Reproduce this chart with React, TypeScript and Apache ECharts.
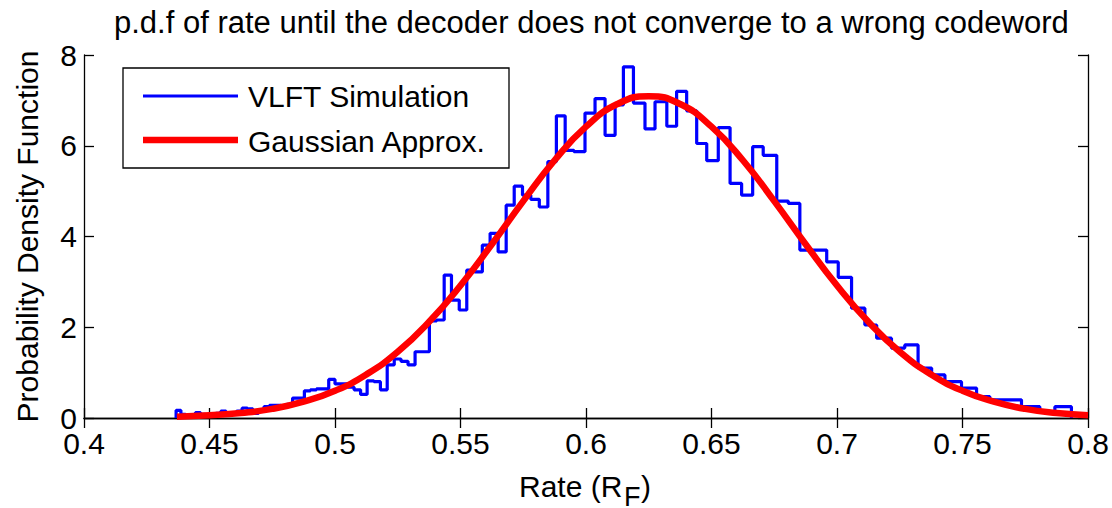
import React, { useEffect, useRef } from "react";
import * as echarts from "echarts";

const FONT = "Liberation Sans, Arial, Helvetica, sans-serif";

const titleText = "p.d.f of rate until the decoder does not converge to a wrong codeword";
const xTicks = [0.4, 0.45, 0.5, 0.55, 0.6, 0.65, 0.7, 0.75, 0.8];
const yTicks = [0, 2, 4, 6, 8];
const xNameParts = ["Rate (R", "F", ")"];
const yName = "Probability Density Function";

// left edges of the histogram steps (rate) and step heights (pdf)
const simEdges = [
  0.4367, 0.4386, 0.4405, 0.4425, 0.4444, 0.4464, 0.4484, 0.4505, 0.4525, 0.4545,
  0.4566, 0.4587, 0.4608, 0.463, 0.4651, 0.4673, 0.4695, 0.4717, 0.4739, 0.4762,
  0.4785, 0.4808, 0.4831, 0.4854, 0.4878, 0.4902, 0.4926, 0.495, 0.4975, 0.5,
  0.5025, 0.5051, 0.5076, 0.5102, 0.5128, 0.5155, 0.5181, 0.5208, 0.5236, 0.5263,
  0.5291, 0.5319, 0.5348, 0.5376, 0.5405, 0.5435, 0.5464, 0.5495, 0.5525, 0.5556,
  0.5587, 0.5618, 0.565, 0.5682, 0.5714, 0.5747, 0.578, 0.5814, 0.5848, 0.5882,
  0.5917, 0.5952, 0.5996, 0.6036, 0.6076, 0.6116, 0.6149, 0.6189, 0.6235, 0.6275,
  0.6322, 0.6361, 0.6401, 0.6441, 0.6481, 0.6527, 0.6574, 0.662, 0.6664, 0.6706,
  0.676, 0.6806, 0.6852, 0.6905, 0.6959, 0.7005, 0.7058, 0.7111, 0.7158, 0.7217,
  0.727, 0.7323, 0.7377, 0.743, 0.7496, 0.7556, 0.7609, 0.7675, 0.7735, 0.7808,
  0.7868, 0.7934,
];
const simValues = [
  0.17, 0.08, 0.05, 0.05, 0.12, 0.08, 0.05, 0.08, 0.1, 0.15,
  0.12, 0.1, 0.15, 0.22, 0.2, 0.1, 0.15, 0.25, 0.28, 0.28,
  0.25, 0.3, 0.44, 0.44, 0.6, 0.62, 0.64, 0.64, 0.85, 0.75,
  0.75, 0.68, 0.62, 0.52, 0.82, 0.8, 0.62, 1.17, 1.3, 1.25,
  1.17, 1.46, 1.46, 2.14, 2.16, 3.15, 2.6, 2.38, 3.26, 3.22,
  3.81, 4.07, 3.66, 4.69, 5.11, 4.91, 4.82, 4.65, 5.65, 6.66,
  5.9, 5.87, 6.72, 7.04, 6.23, 6.9, 7.74, 6.94, 6.37, 6.97,
  6.43, 7.2, 6.77, 6.05, 5.67, 6.4, 5.17, 4.91, 5.98, 5.79,
  4.78, 4.73, 3.7, 3.7, 3.44, 3.1, 2.42, 2.05, 1.76, 1.54,
  1.61, 1.1, 0.95, 0.8, 0.66, 0.47, 0.4, 0.4, 0.25, 0.14,
  0.25, 0,
];

const gaussX = [
  0.437, 0.45, 0.4625, 0.475, 0.4875, 0.5, 0.5125, 0.525, 0.5375, 0.55,
  0.5625, 0.575, 0.5875, 0.6, 0.6125, 0.625, 0.6375, 0.65, 0.6625, 0.675,
  0.6875, 0.7, 0.7125, 0.725, 0.7375, 0.75, 0.7625, 0.775, 0.7875, 0.8,
];
const gaussY = [
  0.03, 0.06, 0.11, 0.2, 0.36, 0.6, 0.96, 1.46, 2.12, 2.92,
  3.83, 4.78, 5.68, 6.42, 6.92, 7.09, 6.92, 6.42, 5.68, 4.78,
  3.83, 2.92, 2.12, 1.46, 0.96, 0.6, 0.36, 0.2, 0.11, 0.06,
];

const legendNames = ["VLFT Simulation", "Gaussian Approx."];

export default function App() {
  const ref = useRef<HTMLDivElement>(null);
  useEffect(() => {
    if (!ref.current) return;
    const chart = echarts.init(ref.current, undefined, { renderer: "svg" });
    const simData: number[][] = [[simEdges[0], 0]];
    simEdges.forEach((x, i) => simData.push([x, simValues[i]]));
    const gaussData = gaussX.map((x, i) => [x, gaussY[i]]);

    const axisLine = { show: true, lineStyle: { color: "#000", width: 1.3 } };
    const tick = { show: true, inside: true, length: 10, lineStyle: { color: "#000", width: 1.3 } };
    const label = { color: "#000", fontSize: 30, fontFamily: FONT };
    const txt = (text: string, x: number, y: number, size = 30) => ({
      type: "text",
      x,
      y,
      style: { text, fontSize: size, fontFamily: FONT, fill: "#000", verticalAlign: "middle", align: "left" },
    });

    chart.setOption({
      animation: false,
      backgroundColor: "#fff",
      title: {
        text: titleText,
        left: 114,
        top: 7,
        padding: 0,
        textStyle: { fontSize: 31, fontWeight: "normal", color: "#000", fontFamily: FONT },
      },
      grid: { left: 84, right: 24, top: 55, bottom: 90, containLabel: false },
      xAxis: [
        {
          type: "value",
          min: xTicks[0],
          max: xTicks[xTicks.length - 1],
          interval: 0.05,
          position: "bottom",
          axisLine,
          axisTick: tick,
          splitLine: { show: false },
          axisLabel: { ...label, margin: 10 },
        },
        {
          type: "value",
          min: xTicks[0],
          max: xTicks[xTicks.length - 1],
          interval: 0.05,
          position: "top",
          axisLine,
          axisTick: tick,
          splitLine: { show: false },
          axisLabel: { show: false },
        },
      ],
      yAxis: [
        {
          type: "value",
          min: yTicks[0],
          max: yTicks[yTicks.length - 1],
          interval: 2,
          position: "left",
          axisLine,
          axisTick: tick,
          splitLine: { show: false },
          axisLabel: { ...label, margin: 7 },
          name: yName,
          nameLocation: "middle",
          nameGap: 42,
          nameTextStyle: { fontSize: 30, fontFamily: FONT, color: "#000" },
        },
        {
          type: "value",
          min: yTicks[0],
          max: yTicks[yTicks.length - 1],
          interval: 2,
          position: "right",
          axisLine,
          axisTick: tick,
          splitLine: { show: false },
          axisLabel: { show: false },
        },
      ],
      series: [
        {
          name: legendNames[0],
          type: "line",
          step: "end",
          data: simData,
          symbol: "none",
          lineStyle: { color: "#0000ff", width: 3.2 },
          z: 2,
        },
        {
          name: legendNames[1],
          type: "line",
          smooth: true,
          data: gaussData,
          symbol: "none",
          lineStyle: { color: "#ff0000", width: 6.5 },
          z: 3,
        },
      ],
      graphic: [
        {
          type: "group",
          z: 100,
          children: [
            {
              type: "rect",
              shape: { x: 123, y: 68, width: 386, height: 100 },
              style: { fill: "#fff", stroke: "#000", lineWidth: 1.3 },
            },
            {
              type: "line",
              shape: { x1: 143, y1: 96, x2: 238, y2: 96 },
              style: { stroke: "#0000ff", lineWidth: 3.2 },
            },
            {
              type: "line",
              shape: { x1: 143, y1: 140, x2: 238, y2: 140 },
              style: { stroke: "#ff0000", lineWidth: 6.5 },
            },
            txt(legendNames[0], 248, 96),
            txt(legendNames[1], 248, 141),
          ],
        },
        {
          type: "group",
          children: [
            txt(xNameParts[0], 519, 486),
            txt(xNameParts[1], 624, 497, 27),
            txt(xNameParts[2], 641, 486),
          ],
        },
      ],
    });
    return () => chart.dispose();
  }, []);
  return (
    <div
      ref={ref}
      style={{ position: "fixed", left: 0, top: 0, width: 1112, height: 508 }}
    />
  );
}
